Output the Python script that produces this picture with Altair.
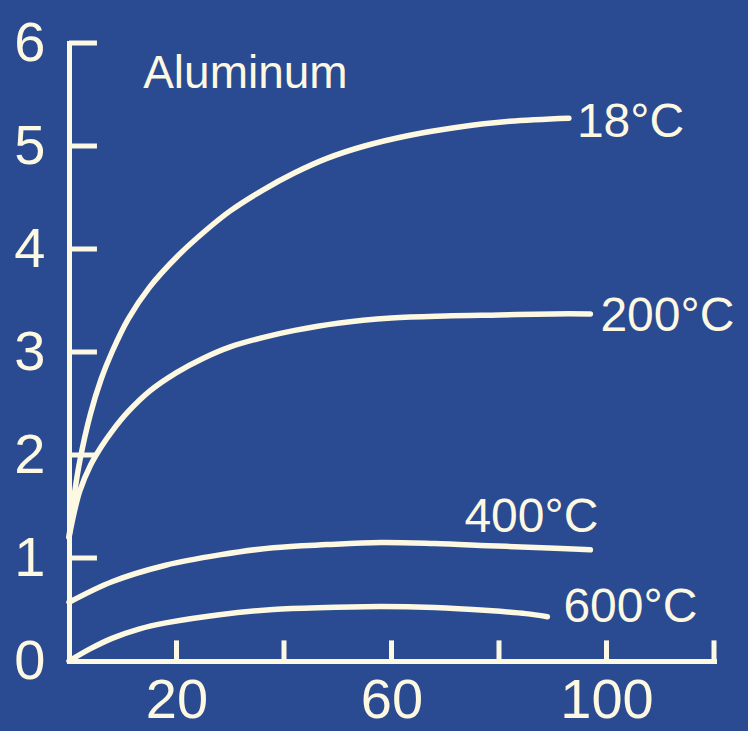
import altair as alt
import pandas as pd

# Curves: strain-hardening response of aluminum at four temperatures
x_18 = [0, 1, 2, 4, 6, 8, 11, 15, 20, 25, 30, 36, 42, 48, 55, 63, 72, 82, 93]
y_18 = [1.2, 1.62, 1.94, 2.4, 2.74, 3.0, 3.32, 3.63, 3.92, 4.16, 4.37, 4.57, 4.74, 4.88, 5.0, 5.1, 5.18, 5.24, 5.27]

x_200 = [0, 1, 2, 4, 6, 8, 11, 15, 20, 25, 30, 36, 42, 50, 60, 70, 80, 90, 97]
y_200 = [1.2, 1.45, 1.65, 1.9, 2.08, 2.23, 2.42, 2.62, 2.8, 2.94, 3.05, 3.14, 3.21, 3.28, 3.33, 3.35, 3.36, 3.37, 3.37]

x_400 = [0, 8, 18, 28, 38, 48, 58, 68, 78, 88, 97]
y_400 = [0.57, 0.77, 0.93, 1.03, 1.10, 1.13, 1.15, 1.14, 1.12, 1.10, 1.08]

x_600 = [0, 4, 8, 13, 18, 28, 38, 48, 58, 68, 78, 85, 89]
y_600 = [0, 0.12, 0.22, 0.31, 0.37, 0.45, 0.50, 0.52, 0.53, 0.52, 0.49, 0.46, 0.43]

series_names = ["18°C", "200°C", "400°C", "600°C"]
series_x = [x_18, x_200, x_400, x_600]
series_y = [y_18, y_200, y_400, y_600]

x_tick_values = [20, 40, 60, 80, 100, 120]
x_label_values = [20, 60, 100]
y_tick_values = [1, 2, 3, 4, 5, 6]
y_label_values = [0, 1, 2, 3, 4, 5, 6]

panel_title = "Aluminum"

BG = "#2a4a92"
CREAM = "#fdf8e2"
FONT = "Liberation Sans"

rows = []
for name, xs, ys in zip(series_names, series_x, series_y):
    for xv, yv in zip(xs, ys):
        rows.append({"series": name, "t": xv, "v": yv})
curves = pd.DataFrame(rows)

x_scale = alt.Scale(domain=[0, 120], nice=False, zero=False)
y_scale = alt.Scale(domain=[0, 6], nice=False, zero=False)

lines = alt.Chart(curves).mark_line(
    color=CREAM, strokeWidth=5.5, interpolate="catmull-rom", strokeCap="round"
).encode(
    x=alt.X("t:Q", scale=x_scale,
            axis=alt.Axis(values=x_label_values, title=None, labelPadding=12,
                          labelFontSize=56, format="d")),
    y=alt.Y("v:Q", scale=y_scale,
            axis=alt.Axis(values=y_label_values, title=None, labelPadding=24,
                          labelFontSize=56, format="d")),
    detail="series:N",
)

# inward-pointing tick marks along both axes
x_ticks = alt.Chart(pd.DataFrame({"t": x_tick_values})).mark_rule(
    color=CREAM, strokeWidth=5
).encode(
    x=alt.X("t:Q", scale=x_scale),
    y=alt.datum(0),
    y2=alt.datum(0.2),
)

y_ticks = alt.Chart(pd.DataFrame({"v": y_tick_values})).mark_rule(
    color=CREAM, strokeWidth=5
).encode(
    y=alt.Y("v:Q", scale=y_scale),
    x=alt.datum(0),
    x2=alt.datum(5.2),
)

# temperature labels placed next to each curve's end
label_style = {
    "18°C": dict(align="left", dx=8, dy=5),
    "200°C": dict(align="left", dx=10, dy=3),
    "400°C": dict(align="right", dx=8, dy=-32),
    "600°C": dict(align="left", dx=16, dy=-9),
}
label_layers = []
for name, xs, ys in zip(series_names, series_x, series_y):
    end = pd.DataFrame({"series": [name], "t": [xs[-1]], "v": [ys[-1]]})
    st = label_style[name]
    label_layers.append(
        alt.Chart(end).mark_text(
            color=CREAM, font=FONT, fontSize=48, baseline="middle", **st
        ).encode(x=alt.X("t:Q", scale=x_scale), y=alt.Y("v:Q", scale=y_scale),
                 text="series:N")
    )

title_text = alt.Chart(pd.DataFrame({"label": [panel_title]})).mark_text(
    color=CREAM, font=FONT, fontSize=46, align="left", baseline="middle"
).encode(x=alt.datum(13.8), y=alt.datum(5.7), text="label:N")

chart = alt.layer(lines, x_ticks, y_ticks, title_text, *label_layers).properties(
    width=645,
    height=618,
    autosize=alt.AutoSizeParams(type="none"),
    padding={"left": 69, "top": 43, "right": 34, "bottom": 70},
    background=BG,
).configure_view(
    strokeWidth=0, fill=BG
).configure_axis(
    domainColor=CREAM,
    domainWidth=5,
    domainCap="square",
    ticks=False,
    grid=False,
    labelColor=CREAM,
    labelFont=FONT,
    labelFlush=False,
    labelOverlap=False,
    labelBound=False,
)

chart.save("out.html", embed_options={"renderer": "svg", "actions": False})
